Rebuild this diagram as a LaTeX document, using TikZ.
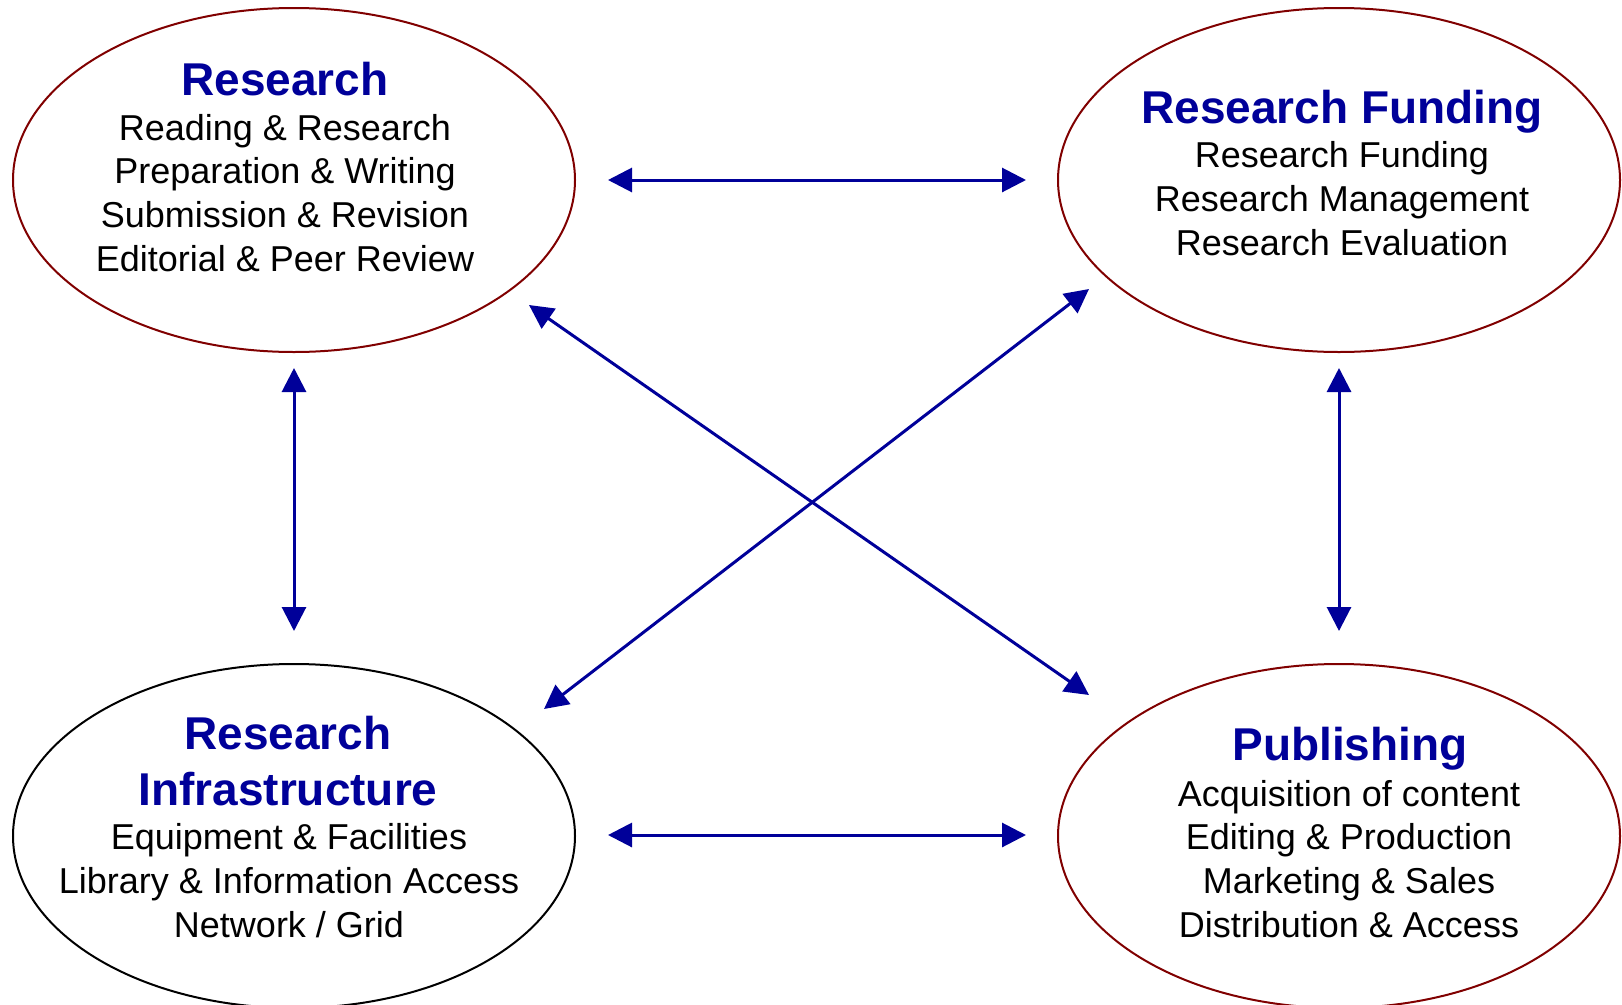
\documentclass[tikz,border=0pt]{standalone}
\usepackage{fontspec}
\setmainfont{Liberation Sans}
\usetikzlibrary{shapes.geometric,arrows.meta}
\definecolor{navyb}{RGB}{0,0,153}
\definecolor{maroonb}{RGB}{128,0,0}
\tikzset{
  ell/.style={ellipse, draw=maroonb, line width=2pt, minimum width=562pt, minimum height=344pt, inner sep=0pt},
  titletxt/.style={anchor=base, inner sep=0pt, text=navyb, font=\fontsize{46}{56}\selectfont\bfseries, align=center},
  bodytxt/.style={anchor=base, inner sep=0pt, text=black, font=\fontsize{36}{43.6}\selectfont, align=center},
  link/.style={draw=navyb, line width=3pt, {Triangle[length=24pt,width=24pt]}-{Triangle[length=24pt,width=24pt]}},
}
\begin{document}
\begin{tikzpicture}[x=1pt,y=-1pt]
\useasboundingbox (0,0) rectangle (1622,1004);
% ellipses
\node[ell] (res) at (294,180) {};
\node[ell] (fund) at (1339,180) {};
\node[ell, draw=black] (infra) at (294,836) {};
\node[ell] (pub) at (1339,836) {};
% texts (base anchor = baseline of the last line)
\node[titletxt] (restitle) at (285,95) {Research};
\node[bodytxt] (resbody) at (285,271) {Reading \& Research\\Preparation \& Writing\\Submission \& Revision\\Editorial \& Peer Review};
\node[titletxt] (fundtitle) at (1342,123) {Research Funding};
\node[bodytxt] (fundbody) at (1342,255) {Research Funding\\Research Management\\Research Evaluation};
\node[titletxt] (infratitle) at (288,805) {Research\\Infrastructure};
\node[bodytxt] (infrabody) at (289,937) {Equipment \& Facilities\\Library \& Information Access\\Network / Grid};
\node[titletxt] (pubtitle) at (1350,760) {Publishing};
\node[bodytxt] (pubbody) at (1349,937) {Acquisition of content\\Editing \& Production\\Marketing \& Sales\\Distribution \& Access};
% connector ends
\coordinate (rfA) at (608,180);
\coordinate (rfB) at (1026,180);
\coordinate (ipA) at (608,835);
\coordinate (ipB) at (1026,835);
\coordinate (riA) at (294,368);
\coordinate (riB) at (294,631);
\coordinate (fpA) at (1339,368);
\coordinate (fpB) at (1339,631);
\coordinate (rpA) at (529,305);
\coordinate (rpB) at (1089,695);
\coordinate (fiA) at (1089,289);
\coordinate (fiB) at (544,709);
% connectors
\draw[link] (rfA) -- (rfB);
\draw[link] (ipA) -- (ipB);
\draw[link] (riA) -- (riB);
\draw[link] (fpA) -- (fpB);
\draw[link] (rpA) -- (rpB);
\draw[link] (fiA) -- (fiB);
\end{tikzpicture}
\end{document}
